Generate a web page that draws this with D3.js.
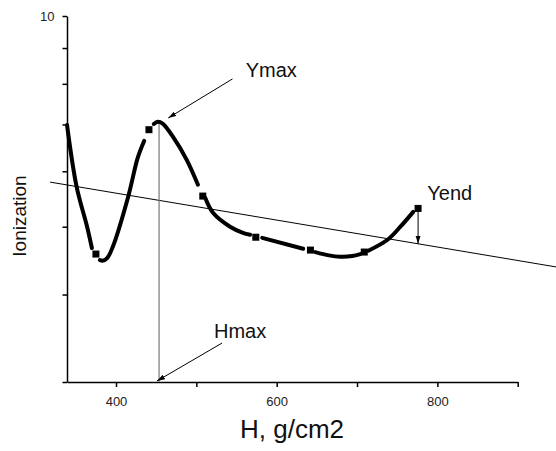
<!DOCTYPE html>
<html lang="en">
<head>
    <meta charset="UTF-8">
    <title>Ionization vs H</title>
    <style>
        body {
            margin: 0;
            padding: 0;
            background-color: #fff;
        }
        svg {
            display: block;
            font-family: Arial, "Liberation Sans", sans-serif;
        }
        .axis path, .axis line {
            stroke: #000;
            stroke-width: 1.5px;
        }
        .axis text {
            font-size: 13px;
            fill: #222;
        }
        .fit {
            fill: none;
            stroke: #000;
            stroke-width: 4px;
            stroke-linecap: round;
        }
        .thin {
            fill: none;
            stroke: #000;
            stroke-width: 1px;
        }
        .note {
            font-size: 20px;
            fill: #111;
        }
    </style>
</head>
<body>
    <svg id="chart" width="556" height="451"></svg>

    <script src="https://d3js.org/d3.v7.min.js"></script>
    <script>
        // measured points (H, ionization)
        const pointH = [375, 441, 508, 574, 642, 709, 776];
        const pointI = [4.57, 6.88, 5.53, 4.83, 4.63, 4.60, 5.31];

        // fitted curve, drawn in pieces (gaps around the symbols)
        const fitCurve = [
            [[339, 6.99], [351, 5.70], [364, 5.00], [370, 4.66]],
            [[380, 4.48], [383, 4.47], [389, 4.51], [396, 4.68], [415, 5.51], [427, 6.27], [435, 6.63]],
            [[447, 7.01], [452, 7.06], [458, 7.02], [471, 6.72], [488, 6.23], [502, 5.74]],
            [[511, 5.50], [521, 5.23], [542, 5.00], [558, 4.90], [567, 4.87]],
            [[582, 4.82], [633, 4.65]],
            [[648, 4.60], [665, 4.55], [679, 4.53], [694, 4.54], [704, 4.57]],
            [[714, 4.62], [738, 4.79], [754, 5.00], [770, 5.25]]
        ];

        // straight trend line end points
        const trendH = [318, 948];
        const trendI = [5.79, 4.38];

        // position of the maximum
        const hMax = 453.6;
        const yMax = 7.06;

        const hTicks = [400, 500, 600, 700, 800, 900];
        const hLabels = [400, 600, 800];
        const iTicks = [3, 4, 5, 6, 7, 8, 9, 10];
        const iLabels = [10];

        const svg = d3.select('#chart');

        const x = d3.scaleLinear().domain([339, 900]).range([67, 517.7]);
        const y = d3.scaleLog().domain([3, 10]).range([382, 16]);

        const defs = svg.append('defs');
        defs.append('marker')
            .attr('id', 'head')
            .attr('markerUnits', 'userSpaceOnUse')
            .attr('markerWidth', 9)
            .attr('markerHeight', 6)
            .attr('refX', 8)
            .attr('refY', 3)
            .attr('orient', 'auto')
            .append('path')
            .attr('d', 'M0,0.5 L8,3 L0,5.5 Z')
            .attr('fill', '#000');

        // axes
        svg.append('g')
            .attr('class', 'axis')
            .attr('transform', `translate(0,${y(3)})`)
            .call(d3.axisBottom(x)
                .tickValues(hTicks)
                .tickSize(5)
                .tickSizeOuter(0)
                .tickPadding(10)
                .tickFormat(d => hLabels.includes(d) ? d : ''));

        svg.append('g')
            .attr('class', 'axis')
            .attr('transform', `translate(${x(339)},0)`)
            .call(d3.axisLeft(y)
                .tickValues(iTicks)
                .tickSize(4.5)
                .tickSizeOuter(0)
                .tickPadding(8)
                .tickFormat(d => iLabels.includes(d) ? d : ''));

        // trend line
        svg.append('line')
            .attr('class', 'thin')
            .attr('x1', x(trendH[0])).attr('y1', y(trendI[0]))
            .attr('x2', x(trendH[1])).attr('y2', y(trendI[1]));

        // vertical line from the maximum down to the axis
        svg.append('line')
            .attr('x1', x(hMax)).attr('y1', y(yMax))
            .attr('x2', x(hMax)).attr('y2', y(3))
            .attr('stroke', '#777')
            .attr('stroke-width', 1.2);

        // fitted curve
        const line = d3.line()
            .x(d => x(d[0]))
            .y(d => y(d[1]))
            .curve(d3.curveCatmullRom.alpha(0.5));

        svg.selectAll('.fit')
            .data(fitCurve)
            .enter().append('path')
            .attr('class', 'fit')
            .attr('d', line);

        // symbols
        const pts = pointH.map((h, i) => ({ h: h, v: pointI[i] }));
        svg.selectAll('.pt')
            .data(pts)
            .enter().append('rect')
            .attr('class', 'pt')
            .attr('x', d => x(d.h) - 3.5)
            .attr('y', d => y(d.v) - 3.5)
            .attr('width', 7)
            .attr('height', 7)
            .attr('fill', '#000');

        // trend value at last point (log-linear between the end points)
        const lastH = pointH[pointH.length - 1];
        const t = (lastH - trendH[0]) / (trendH[1] - trendH[0]);
        const trendAtLast = Math.pow(10, Math.log10(trendI[0]) + t * (Math.log10(trendI[1]) - Math.log10(trendI[0])));

        // arrows
        const arrows = [
            [[545, 8.13], [465, 7.15]],
            [[532, 3.41], [451, 3.01]],
            [[lastH, pointI[pointI.length - 1]], [lastH, trendAtLast]]
        ];
        svg.selectAll('.arrow')
            .data(arrows)
            .enter().append('line')
            .attr('class', 'thin arrow')
            .attr('x1', d => x(d[0][0])).attr('y1', d => y(d[0][1]))
            .attr('x2', d => x(d[1][0])).attr('y2', d => y(d[1][1]))
            .attr('marker-end', 'url(#head)');

        // annotations
        svg.append('text').attr('class', 'note')
            .attr('x', x(561.5)).attr('y', y(8.18)).text('Ymax');
        svg.append('text').attr('class', 'note')
            .attr('x', x(522)).attr('y', y(3.47)).text('Hmax');
        svg.append('text').attr('class', 'note')
            .attr('x', x(787.5)).attr('y', y(5.46)).text('Yend');

        // axis titles
        svg.append('text')
            .attr('x', (x(339) + x(900)) / 2 + 0)
            .attr('x', 292)
            .attr('y', 438)
            .attr('text-anchor', 'middle')
            .attr('font-size', 26)
            .attr('fill', '#111')
            .text('H, g/cm2');

        svg.append('text')
            .attr('transform', 'translate(26,216) rotate(-90)')
            .attr('text-anchor', 'middle')
            .attr('font-size', 19)
            .attr('fill', '#111')
            .text('Ionization');
    </script>
</body>
</html>
